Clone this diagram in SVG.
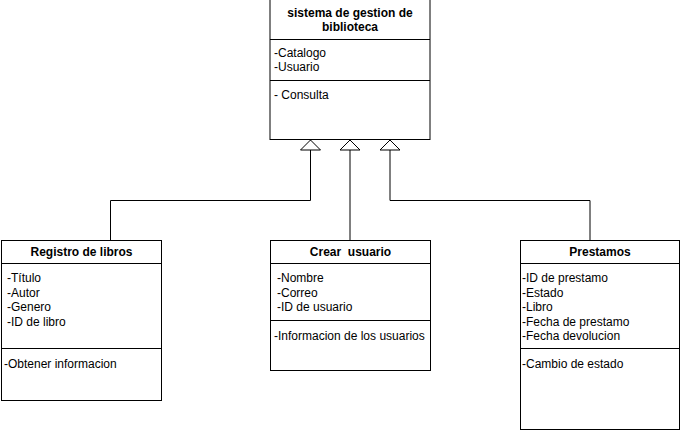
<svg xmlns="http://www.w3.org/2000/svg" width="681" height="431" viewBox="0 0 681 431">
<style>
.box{fill:#fff;stroke:#000;stroke-width:1}
.sep{stroke:#000;stroke-width:1}
.t{font-family:"Liberation Sans",Arial,sans-serif;font-size:12px;fill:#000;white-space:pre}
.b{font-weight:bold;text-anchor:middle}
.con{fill:none;stroke:#000;stroke-width:1}
</style>
<defs>
<marker id="tri" viewBox="0 0 11 22" refX="10.5" refY="11" markerWidth="11" markerHeight="22" markerUnits="userSpaceOnUse" orient="auto">
<path d="M0.5,1 L10.5,11 L0.5,21 Z" fill="#fff" stroke="#000" stroke-width="1"/>
</marker>
</defs>
<rect width="681" height="431" fill="#fff"/>
<g id="connectors">
<path class="con" d="M110.5,240 V200.5 H310.5 V140" marker-end="url(#tri)"/>
<path class="con" d="M350,240 V140" marker-end="url(#tri)"/>
<path class="con" d="M590,240 V200.5 H390 V140" marker-end="url(#tri)"/>
</g>
<g id="sistema">
<rect class="box" x="270" y="-0.5" width="160" height="140"/>
<line class="sep" x1="270" y1="39.5" x2="430" y2="39.5"/>
<line class="sep" x1="270" y1="80.5" x2="430" y2="80.5"/>
<text class="t b" x="350" y="17">sistema de gestion de</text>
<text class="t b" x="350" y="31">biblioteca</text>
<text class="t" x="274" y="57">-Catalogo</text>
<text class="t" x="274" y="71">-Usuario</text>
<text class="t" x="274" y="99">- Consulta</text>
</g>
<g id="registro">
<rect class="box" x="1.5" y="240.5" width="160" height="160"/>
<line class="sep" x1="1.5" y1="263.5" x2="161.5" y2="263.5"/>
<line class="sep" x1="1.5" y1="348.5" x2="161.5" y2="348.5"/>
<text class="t b" x="81.5" y="256">Registro de libros</text>
<text class="t" x="7" y="282">-Título</text>
<text class="t" x="7" y="296.5">-Autor</text>
<text class="t" x="7" y="311">-Genero</text>
<text class="t" x="7" y="325.5">-ID de libro</text>
<text class="t" x="4" y="368">-Obtener informacion</text>
</g>
<g id="crear">
<rect class="box" x="270.5" y="240.5" width="160" height="130"/>
<line class="sep" x1="270.5" y1="263.5" x2="430.5" y2="263.5"/>
<line class="sep" x1="270.5" y1="320.5" x2="430.5" y2="320.5"/>
<text class="t b" x="350.5" y="256">Crear  usuario</text>
<text class="t" x="277" y="282">-Nombre</text>
<text class="t" x="277" y="296.5">-Correo</text>
<text class="t" x="277" y="311">-ID de usuario</text>
<text class="t" x="274" y="340">-Informacion de los usuarios</text>
</g>
<g id="prestamos">
<rect class="box" x="520.5" y="240.5" width="159" height="189"/>
<line class="sep" x1="520.5" y1="263.5" x2="679.5" y2="263.5"/>
<line class="sep" x1="520.5" y1="348.5" x2="679.5" y2="348.5"/>
<text class="t b" x="600" y="256">Prestamos</text>
<text class="t" x="522" y="282">-ID de prestamo</text>
<text class="t" x="522" y="296.5">-Estado</text>
<text class="t" x="522" y="311">-Libro</text>
<text class="t" x="522" y="325.5">-Fecha de prestamo</text>
<text class="t" x="522" y="340">-Fecha devolucion</text>
<text class="t" x="522" y="368">-Cambio de estado</text>
</g>
</svg>
